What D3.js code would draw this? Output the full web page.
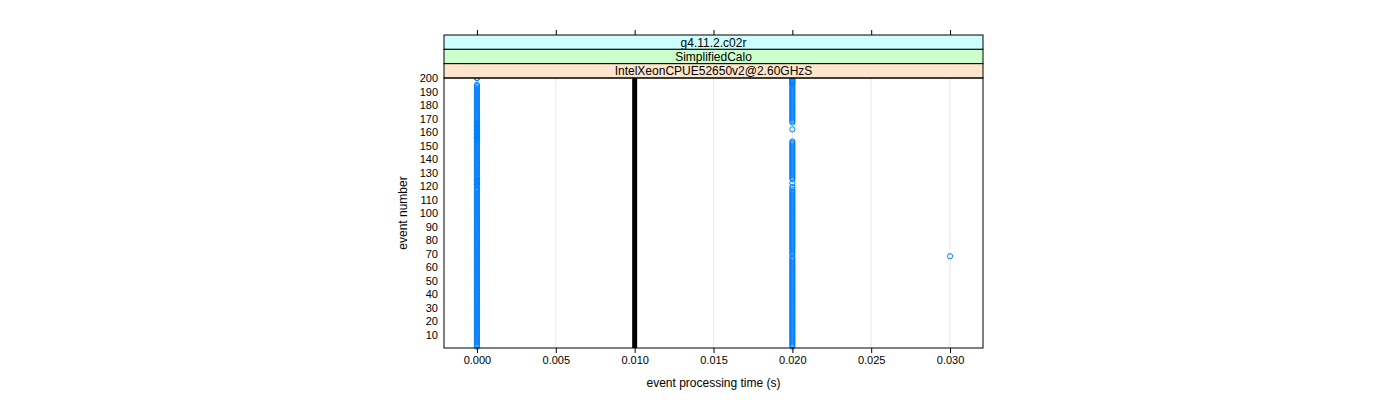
<!DOCTYPE html>
<html><head><meta charset="utf-8">
<script src="https://cdn.jsdelivr.net/npm/d3@7"></script>
<style>body{margin:0;background:#fff}svg{display:block}text{font-family:"Liberation Sans",Arial,sans-serif}</style>
</head><body>
<svg id="c" width="1400" height="400"></svg>
<script>
const strips = ["g4.11.2.c02r", "SimplifiedCalo", "IntelXeonCPUE52650v2@2.60GHzS"];
const stripColors = ["#ccffff", "#ccffcc", "#ffe5cc"];
const xTicks = [0, 0.005, 0.010, 0.015, 0.020, 0.025, 0.030];
const yTicks = [10,20,30,40,50,60,70,80,90,100,110,120,130,140,150,160,170,180,190,200];
const meanTime = 0.010;
// processing time per event (events 1..200), run A
const timesA = [
0.02,0,0.02,0,0,0.02,0.02,0,0.02,0,0,0.02,0,0.02,0.02,0,0,0.02,0,0.02,
0,0.02,0.02,0,0.02,0,0,0.02,0.02,0,0.02,0,0.02,0,0,0.02,0,0.02,0.02,0,
0.02,0,0,0.02,0,0.02,0.02,0,0,0.02,0.02,0,0.02,0,0.02,0,0,0.02,0,0.02,
0,0.02,0,0.02,0.02,0,0.02,0.03,0,0.02,0,0,0.02,0.02,0,0.02,0,0.02,0,0,
0.02,0,0.02,0,0.02,0.02,0,0,0.02,0,0.02,0.02,0,0.02,0,0,0.02,0,0.02,0.02,
0,0,0.02,0,0,0.02,0.02,0,0.02,0,0.02,0.02,0,0.02,0,0,0.02,0,0.02,0,
0,0.02,0,0,0.02,0.02,0,0.02,0,0.02,0.02,0,0.02,0,0.02,0,0.02,0.02,0,0.02,
0.02,0,0.02,0.02,0,0.02,0,0.02,0.02,0,0.02,0,0.02,0,0,0,0,0,0,0,
0,0.02,0,0,0,0,0.02,0.02,0,0.02,0.02,0,0.02,0.02,0,0.02,0.02,0,0.02,0.02,
0,0.02,0.02,0,0.02,0.02,0,0.02,0.02,0,0.02,0.02,0,0.02,0.02,0.02,0.02,0.02,0.02,0
];
// run B
const timesB = [
0,0.02,0,0.02,0.02,0,0,0.02,0,0.02,0.02,0,0.02,0,0,0.02,0.02,0,0.02,0,
0.02,0,0,0.02,0,0.02,0.02,0,0,0.02,0,0.02,0,0.02,0.02,0,0.02,0,0,0.02,
0,0.02,0.02,0,0.02,0,0,0.02,0.02,0,0,0.02,0,0.02,0,0.02,0.02,0,0.02,0,
0.02,0,0.02,0,0,0.02,0,0,0.02,0,0.02,0.02,0,0,0.02,0,0.02,0,0.02,0.02,
0,0.02,0,0.02,0,0,0.02,0.02,0,0.02,0,0,0.02,0,0.02,0.02,0,0.02,0,0,
0.02,0.02,0,0.02,0.02,0,0,0.02,0,0.02,0,0,0.02,0,0.02,0.02,0,0,0.02,0,
0,0,0,0,0,0,0.02,0,0.02,0,0,0.02,0,0.02,0,0.02,0,0,0.02,0,
0,0.02,0,0,0.02,0,0.02,0,0,0.02,0,0.02,0,0,0,0,0,0,0,0,
0,0,0,0,0,0,0,0,0.02,0,0,0.02,0,0,0.02,0,0,0.02,0,0,
0.02,0,0,0.02,0,0,0.02,0,0,0.02,0,0,0.02,0,0,0.02,0.02,0.02,0.02,0
];
const events = timesA.map((t,i)=>({ev:i+1, t}))
  .concat(timesB.map((t,i)=>({ev:i+1, t})));

const svg = d3.select("#c");
const L=444, R=983, T=78, B=348, stripTop=35, stripH=(T-stripTop)/3;
const x = d3.scaleLinear().domain([-0.00209, 0.03209]).range([L,R]);
const y = d3.scaleLinear().domain([0,200]).range([B,T]);

svg.append("g").selectAll("line").data(xTicks).join("line")
  .attr("x1",d=>x(d)).attr("x2",d=>x(d)).attr("y1",T).attr("y2",B)
  .attr("stroke","#e6e6e6").attr("stroke-width",1);

svg.append("line").attr("x1",x(meanTime)).attr("x2",x(meanTime)).attr("y1",T).attr("y2",B)
  .attr("stroke","#000").attr("stroke-width",5);

svg.append("g").selectAll("circle").data(events).join("circle")
  .attr("cx",d=>x(d.t)).attr("cy",d=>y(d.ev)).attr("r",2.6)
  .attr("fill","none").attr("stroke","#0080ff").attr("stroke-width",1);

strips.forEach((s,i)=>{
  const yy = stripTop + i*stripH;
  svg.append("rect").attr("x",L).attr("y",yy).attr("width",R-L).attr("height",stripH)
    .attr("fill",stripColors[i]).attr("stroke","#000").attr("stroke-width",1);
  svg.append("text").attr("x",(L+R)/2).attr("y",yy+stripH/2+4.5).attr("text-anchor","middle")
    .attr("font-size",12).text(s);
});

svg.append("rect").attr("x",L).attr("y",T).attr("width",R-L).attr("height",B-T)
  .attr("fill","none").attr("stroke","#000").attr("stroke-width",1);

const fmt = d3.format(".3f");
const bx = svg.append("g").attr("transform",`translate(0,${B})`)
  .call(d3.axisBottom(x).tickValues(xTicks).tickFormat(fmt).tickSize(5).tickSizeOuter(0));
bx.select(".domain").remove();
bx.selectAll("text").attr("font-size",11).attr("font-family","Liberation Sans, Arial, sans-serif").attr("fill","#000");
const tx = svg.append("g").attr("transform",`translate(0,${stripTop})`)
  .call(d3.axisTop(x).tickValues(xTicks).tickFormat("").tickSize(5).tickSizeOuter(0));
tx.select(".domain").remove();

const ly = svg.append("g").attr("transform",`translate(${L},0)`)
  .call(d3.axisLeft(y).tickValues(yTicks).tickSize(0).tickPadding(6));
ly.select(".domain").remove();
ly.selectAll("text").attr("font-size",11).attr("font-family","Liberation Sans, Arial, sans-serif").attr("fill","#000");

svg.append("text").attr("x",(L+R)/2).attr("y",387).attr("text-anchor","middle")
  .attr("font-size",12).text("event processing time (s)");
svg.append("text").attr("transform",`translate(407,${(T+B)/2}) rotate(-90)`).attr("text-anchor","middle")
  .attr("font-size",12).text("event number");
</script>
</body></html>
